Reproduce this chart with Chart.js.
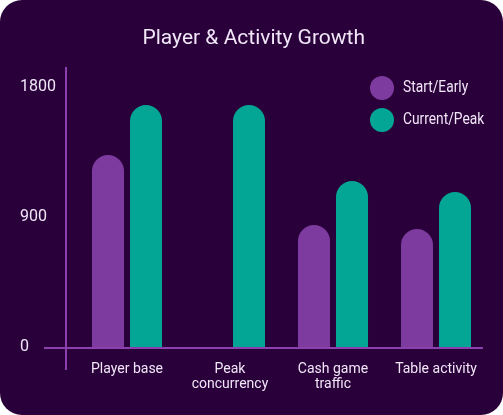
<!DOCTYPE html>
<html>
<head>
<meta charset="utf-8">
<script src="https://cdn.jsdelivr.net/npm/chart.js@4/dist/chart.umd.min.js"></script>
<style>
  html, body { margin: 0; padding: 0; background: #ffffff; }
  .card {
    width: 503px; height: 415px;
    background: #2a003b;
    border-radius: 22px;
    overflow: hidden;
  }
  canvas { display: block; }
</style>
</head>
<body>
<div class="card">
  <canvas id="growthChart" width="503" height="415"></canvas>
</div>
<script>
const categories = ['Player base', ['Peak', 'concurrency'], ['Cash game', 'traffic'], 'Table activity'];
const startEarly = [1327, null, 843, 815];
const currentPeak = [1672, 1672, 1147, 1071];
const yTicks = [0, 900, 1800];

const textColor = '#f1e6f7';
const purple = '#7d3a9f';
const teal = '#03a694';
const axisColor = '#8b40ad';

// axis lines drawn by hand so they can overhang like the original
const axisLines = {
    id: 'axisLines',
    afterDatasetsDraw(chart) {
        const { ctx, chartArea } = chart;
        const zeroY = chart.scales.y.getPixelForValue(0);
        ctx.save();
        ctx.strokeStyle = axisColor;
        ctx.lineWidth = 2;
        ctx.beginPath();
        ctx.moveTo(chartArea.left - 9.5, chartArea.top);
        ctx.lineTo(chartArea.left - 9.5, zeroY + 23);
        ctx.moveTo(chartArea.left - 31.5, zeroY + 1);
        ctx.lineTo(chartArea.right - 4.5, zeroY + 1);
        ctx.stroke();
        ctx.restore();
    }
};

// round dots + slightly narrowed text, like the original legend
const dotLegend = {
    id: 'dotLegend',
    afterDraw(chart) {
        const { ctx, chartArea } = chart;
        const x = chartArea.right - 105.5;
        ctx.save();
        ctx.font = '16px Roboto';
        ctx.textBaseline = 'middle';
        chart.data.datasets.forEach((ds, i) => {
            const y = chartArea.top + 21 + i * 32;
            ctx.fillStyle = ds.backgroundColor;
            ctx.beginPath();
            ctx.arc(x, y, 12, 0, Math.PI * 2);
            ctx.fill();
            ctx.fillStyle = textColor;
            ctx.save();
            ctx.translate(x + 21, y);
            ctx.scale(0.86, 1);
            ctx.fillText(ds.label, 0, 0);
            ctx.restore();
        });
        ctx.restore();
    }
};

const ctx = document.getElementById('growthChart').getContext('2d');

new Chart(ctx, {
    type: 'bar',
    data: {
        labels: categories,
        datasets: [
            {
                label: 'Start/Early',
                data: startEarly,
                backgroundColor: purple,
                borderRadius: { topLeft: 16, topRight: 16 },
                borderSkipped: 'bottom'
            },
            {
                label: 'Current/Peak',
                data: currentPeak,
                backgroundColor: teal,
                borderRadius: { topLeft: 16, topRight: 16 },
                borderSkipped: 'bottom'
            }
        ]
    },
    options: {
        responsive: false,
        animation: false,
        events: [],
        categoryPercentage: 0.738,
        barPercentage: 0.842,
        layout: {
            padding: { left: 20, right: 15.5, top: 0, bottom: 0 }
        },
        plugins: {
            legend: { display: false },
            tooltip: { enabled: false },
            title: {
                display: true,
                text: 'Player & Activity Growth',
                color: textColor,
                font: { family: 'Roboto', size: 21, weight: 'normal', lineHeight: 1.2 },
                padding: { top: 26.4, bottom: 15.4 }
            }
        },
        scales: {
            x: {
                grid: { display: false, drawTicks: false },
                border: { display: false },
                ticks: {
                    color: textColor,
                    font: { family: 'Roboto', size: 14, lineHeight: 1.07 },
                    padding: 15,
                    maxRotation: 0,
                    autoSkip: false
                },
                afterFit(scale) { scale.height = 68; }
            },
            y: {
                min: 0,
                max: 1935,
                grid: { display: false, drawTicks: false },
                border: { display: false },
                afterBuildTicks(scale) {
                    scale.ticks = yTicks.map(v => ({ value: v }));
                },
                ticks: {
                    color: textColor,
                    font: { family: 'Roboto', size: 16 },
                    crossAlign: 'far',
                    padding: 0,
                    callback: value => String(value)
                },
                afterFit(scale) { scale.width = 55.5; }
            }
        }
    },
    plugins: [axisLines, dotLegend]
});
</script>
</body>
</html>
